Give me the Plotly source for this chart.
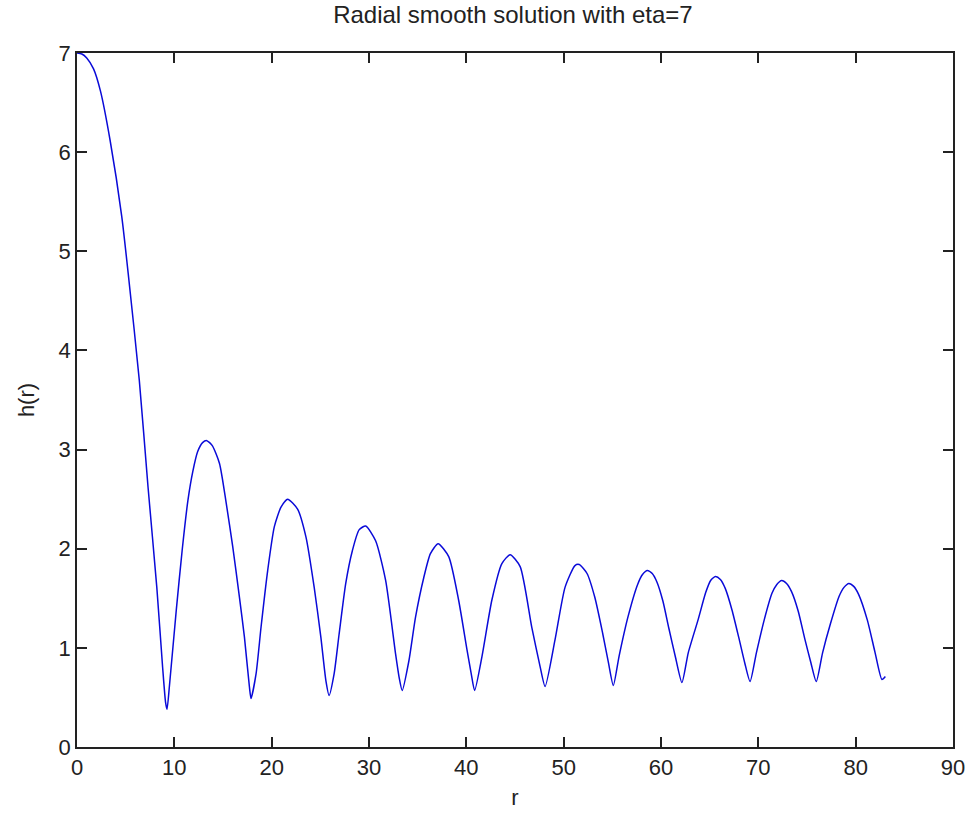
import plotly.graph_objects as go

r_vals = [0.0, 0.5, 1.0, 1.7, 2.4, 3.4, 4.6, 5.3, 6.4, 7.3, 8.2, 8.8, 9.1, 9.25,
          9.5, 10.2, 10.8, 11.4, 11.9, 12.4, 12.9, 13.34, 13.9, 14.64, 15.33, 16.0, 16.69, 17.2, 17.71, 17.88,
          18.4, 18.91, 19.59, 20.27, 20.96, 21.64, 22.66, 23.52, 24.37, 25.05, 25.57, 25.9,
          26.42, 26.93, 27.61, 28.29, 28.98, 29.66, 30.68, 31.71, 32.73, 33.1, 33.41,
          34.1, 34.78, 35.63, 36.31, 37.1, 38.19, 39.21, 40.07, 40.5, 40.85,
          41.6, 42.62, 43.65, 44.5, 45.53, 46.72, 47.58, 48.09,
          49.11, 50.14, 51.16, 51.6, 52.4, 53.2, 54.0, 54.6, 55.1,
          55.7, 56.6, 57.6, 58.1, 58.6, 59.1, 59.6, 60.2, 60.8, 61.5, 62.15,
          62.8, 63.8, 64.6, 65.1, 65.6, 66.1, 66.6, 67.3, 68.0, 68.6, 69.15,
          69.8, 70.6, 71.4, 71.9, 72.4, 72.9, 73.4, 74.1, 74.8, 75.4, 75.95,
          76.6, 77.4, 78.3, 78.8, 79.3, 79.8, 80.3, 81.2, 82.0, 82.7, 83.05]
h_vals = [7.0, 6.99, 6.95, 6.84, 6.62, 6.12, 5.35, 4.74, 3.70, 2.62, 1.61, 0.80, 0.45, 0.38,
          0.62, 1.38, 1.98, 2.49, 2.78, 2.98, 3.07, 3.09, 3.04, 2.86, 2.46, 2.02, 1.51, 1.11, 0.61, 0.49,
          0.74, 1.21, 1.78, 2.22, 2.42, 2.50, 2.40, 2.12, 1.61, 1.11, 0.67, 0.52,
          0.74, 1.14, 1.65, 1.98, 2.19, 2.23, 2.08, 1.68, 0.94, 0.70, 0.57,
          0.87, 1.31, 1.71, 1.95, 2.05, 1.92, 1.48, 0.98, 0.74, 0.57,
          0.91, 1.48, 1.85, 1.94, 1.82, 1.21, 0.81, 0.61,
          1.08, 1.61, 1.83, 1.84, 1.75, 1.51, 1.15, 0.85, 0.62,
          0.92, 1.31, 1.64, 1.74, 1.78, 1.75, 1.66, 1.47, 1.20, 0.90, 0.65,
          0.95, 1.28, 1.56, 1.68, 1.72, 1.69, 1.60, 1.38, 1.10, 0.85, 0.66,
          0.95, 1.28, 1.55, 1.64, 1.68, 1.65, 1.57, 1.37, 1.08, 0.85, 0.66,
          0.95, 1.24, 1.52, 1.61, 1.65, 1.62, 1.54, 1.28, 0.95, 0.68, 0.71]

x_ticks = [0, 10, 20, 30, 40, 50, 60, 70, 80, 90]
y_ticks = [0, 1, 2, 3, 4, 5, 6, 7]

fig = go.Figure()
fig.add_trace(go.Scatter(x=r_vals, y=h_vals, mode="lines",
                         line=dict(color="#0a0ad8", width=1.5, shape="spline", smoothing=0.6),
                         showlegend=False))

fam = "Liberation Sans, Arial, sans-serif"
font = dict(family=fam, size=22, color="#222222")
axis_common = dict(showline=True, linecolor="#222222", linewidth=1.5, mirror="ticks",
                   ticks="inside", ticklen=10, tickwidth=1.5, tickcolor="#222222", showgrid=False,
                   zeroline=False, tickfont=font)
fig.update_layout(
    width=977, height=818,
    margin=dict(l=77, r=21, t=53, b=71),
    paper_bgcolor="white", plot_bgcolor="white",
    title=dict(text="Radial smooth solution with eta=7", x=0.525, xanchor="center",
               y=0.982, yanchor="middle", font=dict(family=fam, size=24, color="#222222")),
    xaxis=dict(range=[0, 90], tickvals=x_ticks, title=dict(text="r", font=font, standoff=10), **axis_common),
    yaxis=dict(range=[0, 7], tickvals=y_ticks, title=dict(text="h(r)", font=font, standoff=18), **axis_common),
)
fig.write_html("out.html")
